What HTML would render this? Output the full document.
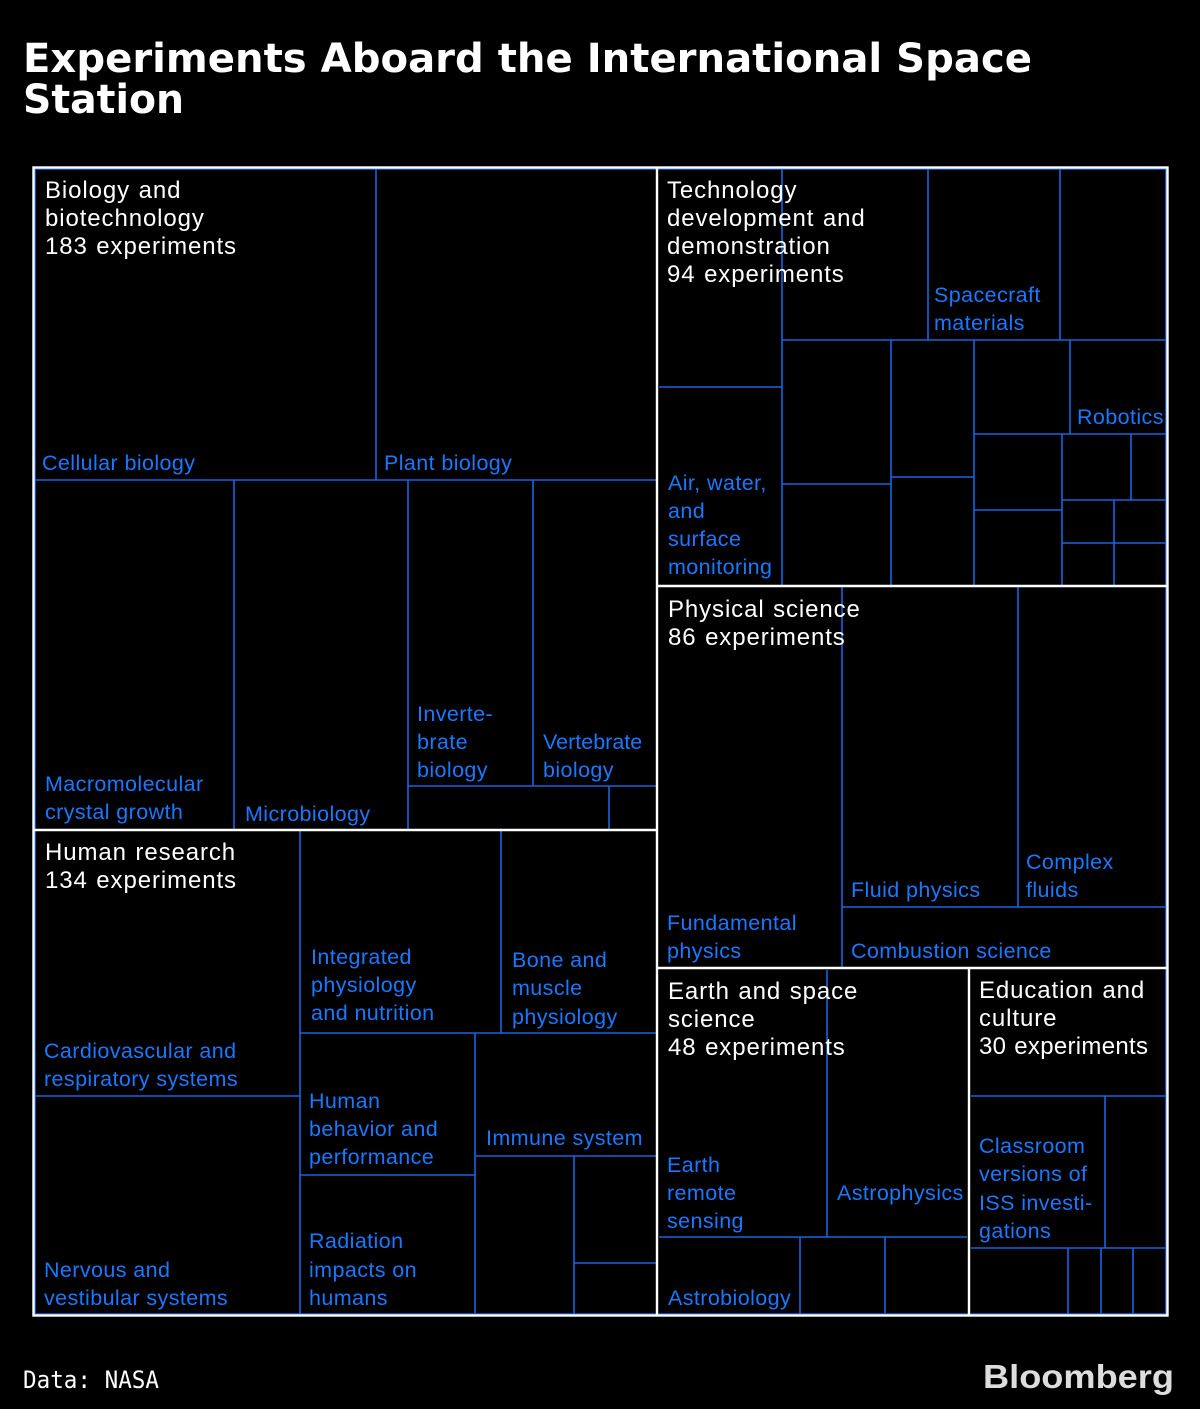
<!DOCTYPE html>
<html><head><meta charset="utf-8"><style>
html,body{margin:0;padding:0;background:#000;}
svg{display:block}
.h{fill:#fff;font-family:"Liberation Sans",sans-serif;font-size:24px;letter-spacing:0.9px;word-spacing:1px}
.b{fill:#1a78ff;font-family:"Liberation Sans",sans-serif;font-size:21.5px;letter-spacing:0.4px}
</style></head><body>
<svg width="1200" height="1409" viewBox="0 0 1200 1409" xmlns="http://www.w3.org/2000/svg">
<rect width="1200" height="1409" fill="#000"/>
<text x="23" y="72" fill="#fff" font-family="DejaVu Sans, sans-serif" font-weight="bold" font-size="40" textLength="1009" lengthAdjust="spacingAndGlyphs">Experiments Aboard the International Space</text>
<text x="23" y="113" fill="#fff" font-family="DejaVu Sans, sans-serif" font-weight="bold" font-size="40" textLength="161" lengthAdjust="spacingAndGlyphs">Station</text>
<g stroke="#1466e0" stroke-width="1.6" fill="none">
<path d="M376 169V480M35 480H656M234 480V830M408 480V830M533 480V786M408 786H656M609 786V830"/>
<path d="M300 830V1316M35 1096H300M501 830V1033M300 1033H656M475 1033V1316M300 1175H475M475 1156H656M574 1156V1316M574 1263H656"/>
<path d="M782 169V585M659 387H782M928 169V340M1060 169V340M782 340H1166M891 340V585M782 484H891M891 477H974M974 340V585M1070 340V434M974 434H1166M1062 434V585M974 510H1062M1131 434V500M1062 500H1166M1114 500V585M1062 543H1166"/>
<path d="M842 587V968M1018 587V907M842 907H1166"/>
<path d="M827 970V1237M659 1237H967M800 1237V1316M885 1237V1316"/>
<path d="M971 1096H1166M1105 1096V1248M971 1248H1166M1068 1248V1316M1101 1248V1316M1133 1248V1316"/>
<path d="M35 169H1166V1314H35Z"/>
</g>
<g stroke="#fff" stroke-width="2.4" fill="none">
<rect x="33.5" y="167.5" width="1134" height="1148"/>
<path d="M657 167V1316M33 830H657M657 586H1168M657 968H1168M969 968V1316"/>
</g>
<text class="h"><tspan x="45" y="198">Biology and</tspan><tspan x="45" y="226">biotechnology</tspan><tspan x="45" y="254">183 experiments</tspan></text>
<text class="h"><tspan x="667" y="198">Technology</tspan><tspan x="667" y="226">development and</tspan><tspan x="667" y="254">demonstration</tspan><tspan x="667" y="282">94 experiments</tspan></text>
<text class="h"><tspan x="668" y="617">Physical science</tspan><tspan x="668" y="645">86 experiments</tspan></text>
<text class="h"><tspan x="45" y="860">Human research</tspan><tspan x="45" y="888">134 experiments</tspan></text>
<text class="h"><tspan x="668" y="999">Earth and space</tspan><tspan x="668" y="1027">science</tspan><tspan x="668" y="1055">48 experiments</tspan></text>
<text class="h"><tspan x="979" y="998">Education and</tspan><tspan x="979" y="1026">culture</tspan><tspan x="979" y="1054" letter-spacing="0.3">30 experiments</tspan></text>

<text class="b" x="42" y="470">Cellular biology</text>
<text class="b" x="384" y="470">Plant biology</text>
<text class="b"><tspan x="45" y="791">Macromolecular</tspan><tspan x="45" y="819">crystal growth</tspan></text>
<text class="b" x="245" y="821">Microbiology</text>
<text class="b"><tspan x="417" y="721">Inverte-</tspan><tspan x="417" y="749">brate</tspan><tspan x="417" y="777">biology</tspan></text>
<text class="b"><tspan x="543" y="749" letter-spacing="0">Vertebrate</tspan><tspan x="543" y="777">biology</tspan></text>
<text class="b"><tspan x="934" y="302">Spacecraft</tspan><tspan x="934" y="330">materials</tspan></text>
<text class="b" x="1077" y="424" letter-spacing="0">Robotics</text>
<text class="b"><tspan x="668" y="490">Air, water,</tspan><tspan x="668" y="518">and</tspan><tspan x="668" y="546">surface</tspan><tspan x="668" y="574">monitoring</tspan></text>
<text class="b"><tspan x="667" y="930">Fundamental</tspan><tspan x="667" y="958">physics</tspan></text>
<text class="b" x="851" y="897">Fluid physics</text>
<text class="b"><tspan x="1026" y="869">Complex</tspan><tspan x="1026" y="897">fluids</tspan></text>
<text class="b" x="851" y="958">Combustion science</text>
<text class="b"><tspan x="311" y="964">Integrated</tspan><tspan x="311" y="992">physiology</tspan><tspan x="311" y="1020">and nutrition</tspan></text>
<text class="b"><tspan x="512" y="967">Bone and</tspan><tspan x="512" y="995">muscle</tspan><tspan x="512" y="1024">physiology</tspan></text>
<text class="b"><tspan x="44" y="1058">Cardiovascular and</tspan><tspan x="44" y="1086">respiratory systems</tspan></text>
<text class="b"><tspan x="309" y="1108">Human</tspan><tspan x="309" y="1136">behavior and</tspan><tspan x="309" y="1164">performance</tspan></text>
<text class="b" x="486" y="1145">Immune system</text>
<text class="b"><tspan x="44" y="1277">Nervous and</tspan><tspan x="44" y="1305">vestibular systems</tspan></text>
<text class="b"><tspan x="309" y="1248">Radiation</tspan><tspan x="309" y="1277">impacts on</tspan><tspan x="309" y="1305">humans</tspan></text>
<text class="b"><tspan x="667" y="1172">Earth</tspan><tspan x="667" y="1200">remote</tspan><tspan x="667" y="1228">sensing</tspan></text>
<text class="b" x="837" y="1200" letter-spacing="0">Astrophysics</text>
<text class="b" x="668" y="1305">Astrobiology</text>
<text class="b"><tspan x="979" y="1153">Classroom</tspan><tspan x="979" y="1181">versions of</tspan><tspan x="979" y="1210">ISS investi-</tspan><tspan x="979" y="1238">gations</tspan></text>

<text x="23" y="1388" fill="#fff" font-family="DejaVu Sans Mono, monospace" font-size="24" textLength="136" lengthAdjust="spacingAndGlyphs">Data: NASA</text>
<text x="983" y="1388" fill="#ddd" font-family="Liberation Sans, sans-serif" font-weight="bold" font-size="33" textLength="191" lengthAdjust="spacingAndGlyphs">Bloomberg</text>
</svg>
</body></html>
